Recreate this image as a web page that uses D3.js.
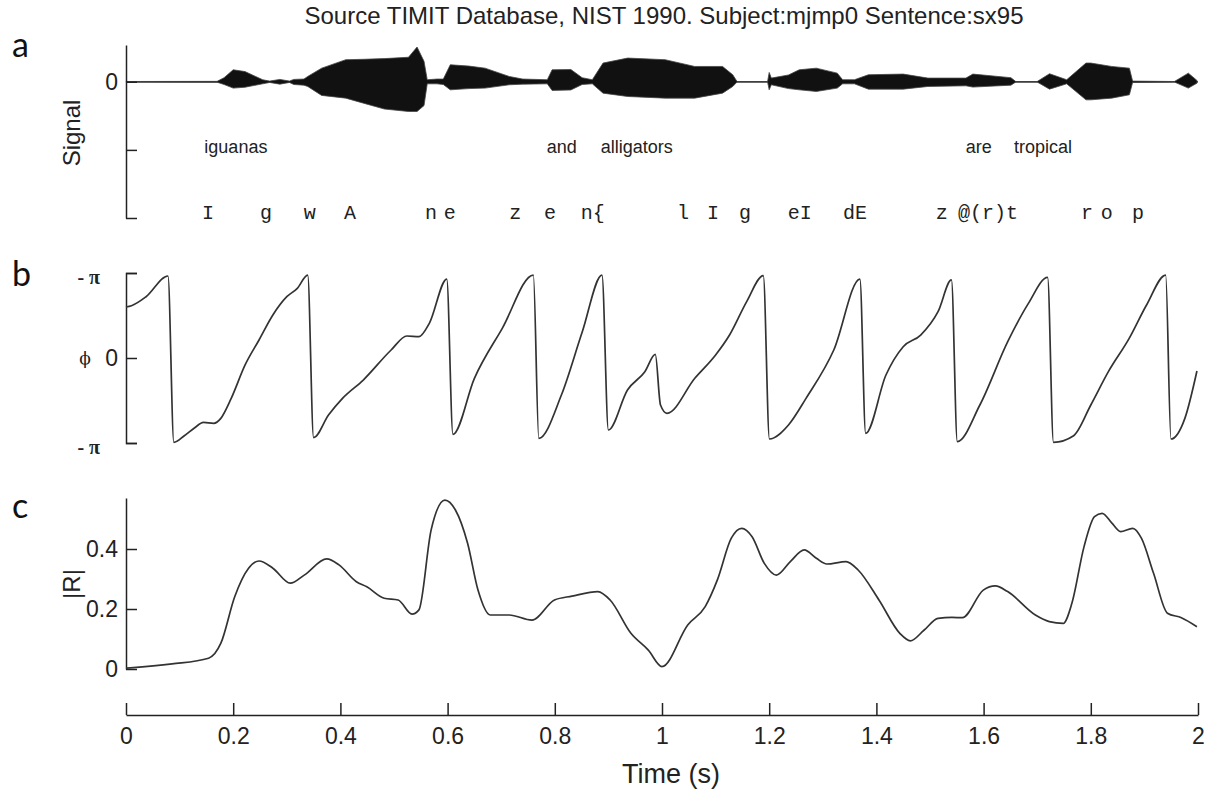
<!DOCTYPE html>
<html>
<head>
<meta charset="utf-8">
<script src="https://cdn.jsdelivr.net/npm/d3@7"></script>
<style>
    body { margin: 0; background: white; }
    svg { display: block; font-family: "Liberation Sans", Arial, sans-serif; }
    .axis path, .axis line { stroke: #222; stroke-width: 1.5; }
    .axis text { fill: #222; }
</style>
</head>
<body>
<svg width="1207" height="793"></svg>
<script>
// waveform envelope (time in s, upper and lower peak, signal units)
const envTime = [0, 0.17, 0.183, 0.2, 0.222, 0.255, 0.268, 0.287, 0.305, 0.313, 0.332, 0.339, 0.365, 0.41, 0.443, 0.482, 0.527, 0.543, 0.556, 0.562,
    0.58, 0.592, 0.605, 0.64, 0.67, 0.715, 0.74, 0.786, 0.795, 0.83, 0.851, 0.87, 0.89, 0.936, 1.006, 1.061, 1.113, 1.132, 1.14, 1.197,
    1.2, 1.204, 1.236, 1.256, 1.288, 1.327, 1.337, 1.359, 1.385, 1.45, 1.496, 1.567, 1.58, 1.651, 1.66, 1.7, 1.723, 1.755, 1.791, 1.8,
    1.839, 1.872, 1.878, 1.956, 1.982, 1.998];
const envUpper = [0.004, 0.006, 0.06, 0.176, 0.15, 0.03, 0.01, 0.035, 0.01, 0.035, 0.04, 0.078, 0.2, 0.324, 0.33, 0.34, 0.36, 0.51, 0.3, 0.03,
    0.04, 0.04, 0.25, 0.23, 0.2, 0.078, 0.04, 0.03, 0.176, 0.18, 0.06, 0.03, 0.275, 0.348, 0.324, 0.225, 0.225, 0.103, 0.004, 0.004,
    0.137, 0.054, 0.1, 0.176, 0.2, 0.127, 0.03, 0.03, 0.103, 0.113, 0.054, 0.054, 0.113, 0.06, 0.004, 0.004, 0.118, 0.03, 0.275, 0.275,
    0.225, 0.2, 0.01, 0.004, 0.127, 0.02];
const envLower = [-0.004, -0.006, -0.04, -0.093, -0.08, -0.03, -0.01, -0.035, -0.01, -0.04, -0.05, -0.069, -0.2, -0.24, -0.314, -0.4, -0.436, -0.436, -0.35, -0.03,
    -0.03, -0.04, -0.118, -0.1, -0.093, -0.044, -0.035, -0.03, -0.127, -0.12, -0.04, -0.03, -0.167, -0.216, -0.24, -0.24, -0.167, -0.069, -0.004, -0.004,
    -0.118, -0.044, -0.1, -0.118, -0.142, -0.093, -0.03, -0.03, -0.108, -0.108, -0.069, -0.059, -0.078, -0.05, -0.004, -0.004, -0.108, -0.03, -0.265, -0.265,
    -0.24, -0.191, -0.01, -0.004, -0.093, -0.02];

const words = ["iguanas", "and", "alligators", "are", "tropical"];
const wordTime = [0.205, 0.813, 0.953, 1.591, 1.711];

const phones = ["I", "g", "w", "A", "n", "e", "z", "e", "n{", "l", "I", "g", "eI", "dE", "z", "@(r)t", "r", "o", "p"];
const phoneTime = [0.153, 0.261, 0.343, 0.418, 0.569, 0.604, 0.726, 0.791, 0.871, 1.039, 1.095, 1.155, 1.257, 1.36, 1.522, 1.608, 1.793, 1.83, 1.888];

// phase (in units of pi)
const phaseTime = [0, 0.0102, 0.0374, 0.0783, 0.0893, 0.1088, 0.1282, 0.1444, 0.1638, 0.1769, 0.1963, 0.2222, 0.2482, 0.274, 0.3, 0.3196, 0.339, 0.35,
    0.3778, 0.4039, 0.4427, 0.4946, 0.524, 0.5465, 0.5659, 0.5984, 0.61, 0.65, 0.702, 0.76, 0.7702, 0.8123, 0.8513, 0.888, 0.9, 0.9356, 0.968, 0.9875,
    0.9972, 1.0093, 1.0612, 1.1, 1.126, 1.158, 1.189, 1.2005, 1.236, 1.2687, 1.3205, 1.3692, 1.38, 1.4178, 1.45, 1.4826, 1.515, 1.54, 1.551,
    1.593, 1.645, 1.6836, 1.7194, 1.7304, 1.768, 1.8, 1.8328, 1.8716, 1.904, 1.9397, 1.9496, 1.9755, 1.998];
const phaseValue = [0.6, 0.615, 0.721, 0.965, -0.992, -0.914, -0.82, -0.757, -0.768, -0.71, -0.475, -0.082, 0.212, 0.506, 0.721, 0.82, 0.976, -0.937,
    -0.671, -0.475, -0.259, 0.094, 0.259, 0.251, 0.408, 0.929, -0.898, -0.239, 0.349, 0.976, -0.945, -0.435, 0.309, 0.976, -0.847, -0.376, -0.161, 0.043,
    -0.553, -0.651, -0.239, 0.035, 0.27, 0.663, 0.969, -0.953, -0.788, -0.475, 0.094, 0.929, -0.886, -0.2, 0.133, 0.27, 0.545, 0.918, -0.984,
    -0.553, 0.192, 0.643, 0.949, -0.992, -0.914, -0.553, -0.161, 0.231, 0.624, 0.976, -0.953, -0.71, -0.153];

// resultant length |R|
const rTime = [0, 0.0082, 0.086, 0.154, 0.177, 0.2028, 0.2287, 0.2481, 0.274, 0.3065, 0.3325, 0.3746, 0.3974, 0.4298, 0.4493, 0.4817, 0.5077, 0.5336,
    0.5465, 0.5692, 0.595, 0.6146, 0.6373, 0.6567, 0.6795, 0.715, 0.7573, 0.7994, 0.832, 0.8804, 0.9032, 0.942, 0.9745, 1.0, 1.048, 1.0806, 1.1033,
    1.1293, 1.1487, 1.1681, 1.1909, 1.2134, 1.2394, 1.2653, 1.288, 1.3075, 1.3433, 1.3659, 1.4048, 1.4437, 1.4632, 1.4892, 1.515, 1.541, 1.5605,
    1.5994, 1.622, 1.6448, 1.6966, 1.7226, 1.7485, 1.7647, 1.7874, 1.8069, 1.8211, 1.8394, 1.8555, 1.8782, 1.8944, 1.9171, 1.943, 1.969, 1.998];
const rValue = [0.003, 0.004, 0.017, 0.036, 0.086, 0.241, 0.336, 0.36, 0.336, 0.286, 0.313, 0.367, 0.347, 0.291, 0.274, 0.236, 0.23, 0.183,
    0.197, 0.463, 0.563, 0.53, 0.419, 0.263, 0.18, 0.18, 0.163, 0.23, 0.243, 0.258, 0.23, 0.119, 0.063, 0.008, 0.147, 0.208, 0.297,
    0.436, 0.469, 0.441, 0.352, 0.313, 0.358, 0.397, 0.369, 0.35, 0.358, 0.33, 0.23, 0.119, 0.094, 0.13, 0.169, 0.172, 0.171,
    0.263, 0.277, 0.258, 0.18, 0.158, 0.152, 0.219, 0.408, 0.508, 0.519, 0.486, 0.458, 0.469, 0.436, 0.319, 0.186, 0.171, 0.141];

const timeTicks = [0, 0.2, 0.4, 0.6, 0.8, 1, 1.2, 1.4, 1.6, 1.8, 2];
const signalTicks = [0, -1, -2];
const rTicks = [0, 0.2, 0.4];

let svg = d3.select("svg");

let x = d3.scaleLinear().domain([0, 2]).range([126, 1198]);
let ySig = d3.scaleLinear().domain([-2, 0.54]).range([218, 45]);
let yPh = d3.scaleLinear().domain([-1, 1]).range([443, 273]);
let yR = d3.scaleLinear().domain([0, 0.57]).range([669, 498]);

// title
svg.append("text")
    .attr("x", 664).attr("y", 24)
    .attr("text-anchor", "middle")
    .style("font-size", "24px").style("fill", "#222")
    .text("Source TIMIT Database, NIST 1990. Subject:mjmp0 Sentence:sx95");

// panel letters
[["a", 57], ["b", 286], ["c", 518]].forEach(function (d) {
    svg.append("text")
        .attr("x", 12).attr("y", d[1])
        .style("font-family", "Lato, 'Open Sans', sans-serif")
        .style("font-size", "34px").style("fill", "#111")
        .text(d[0]);
});

// ---- panel a
let env = envTime.map(function (t, i) {
    return {t: t, hi: envUpper[i], lo: envLower[i]};
});

svg.append("line")
    .attr("x1", x(0)).attr("x2", x(2))
    .attr("y1", ySig(0)).attr("y2", ySig(0))
    .style("stroke", "#111").style("stroke-width", 1.2);

svg.append("path")
    .datum(env)
    .attr("d", d3.area()
        .x(function (d) { return x(d.t); })
        .y0(function (d) { return ySig(d.lo); })
        .y1(function (d) { return ySig(d.hi); })
        .curve(d3.curveLinear))
    .style("fill", "#111")
    .style("stroke", "#444").style("stroke-width", 0.8);

svg.append("g")
    .attr("class", "axis")
    .attr("transform", "translate(" + x(0) + ",0)")
    .call(d3.axisLeft(ySig).tickValues(signalTicks).tickSizeInner(-11).tickSizeOuter(0).tickPadding(8)
        .tickFormat(function (d) { return d === 0 ? "0" : ""; }))
    .call(function (g) { g.selectAll("text").style("font-size", "23px"); });

svg.append("text")
    .attr("transform", "translate(80,133) rotate(-90)")
    .attr("text-anchor", "middle")
    .style("font-size", "24px").style("fill", "#222")
    .text("Signal");

svg.selectAll(".word")
    .data(words)
    .enter().append("text")
    .attr("class", "word")
    .attr("x", function (d, i) { return x(wordTime[i]); })
    .attr("y", 153)
    .attr("text-anchor", "middle")
    .style("font-size", "18px").style("fill", "#222")
    .text(function (d) { return d; });

svg.selectAll(".phone")
    .data(phones)
    .enter().append("text")
    .attr("class", "phone")
    .attr("x", function (d, i) { return x(phoneTime[i]); })
    .attr("y", 219)
    .attr("text-anchor", "middle")
    .style("font-family", "'Liberation Mono', 'DejaVu Sans Mono', monospace")
    .style("font-size", "20px").style("fill", "#222")
    .text(function (d) { return d; });

// ---- panel b
let phase = phaseTime.map(function (t, i) { return {t: t, v: phaseValue[i]}; });

svg.append("g")
    .attr("class", "axis")
    .attr("transform", "translate(" + x(0) + ",0)")
    .call(d3.axisLeft(yPh).tickValues([-1, 0, 1]).tickSizeInner(-11).tickSizeOuter(-11).tickFormat(""));

[[284, "- \u03c0"], [454, "- \u03c0"]].forEach(function (d) {
    svg.append("text").attr("x", 100).attr("y", d[0]).attr("text-anchor", "end")
        .style("font-family", "'Liberation Serif', serif").style("font-weight", "bold")
        .style("font-size", "20px").style("fill", "#222").text(d[1]);
});
svg.append("text").attr("x", 85).attr("y", 364).attr("text-anchor", "middle")
    .style("font-family", "'DejaVu Serif', serif").style("font-size", "17px").style("fill", "#222").text("\u03d5");
svg.append("text").attr("x", 118).attr("y", 366).attr("text-anchor", "end")
    .style("font-size", "23px").style("fill", "#222").text("0");

svg.append("path")
    .datum(phase)
    .attr("d", d3.line()
        .x(function (d) { return x(d.t); })
        .y(function (d) { return yPh(d.v); })
        .curve(d3.curveMonotoneX))
    .style("fill", "none").style("stroke", "#333").style("stroke-width", 1.7);

// ---- panel c
let res = rTime.map(function (t, i) { return {t: t, v: rValue[i]}; });

svg.append("g")
    .attr("class", "axis")
    .attr("transform", "translate(" + x(0) + ",0)")
    .call(d3.axisLeft(yR).tickValues(rTicks).tickSizeInner(-11).tickSizeOuter(0).tickPadding(8)
        .tickFormat(d3.format("~g")))
    .call(function (g) { g.selectAll("text").style("font-size", "23px"); });

svg.append("text")
    .attr("transform", "translate(80,584) rotate(-90)")
    .attr("text-anchor", "middle")
    .style("font-size", "24px").style("fill", "#222")
    .text("|R|");

svg.append("path")
    .datum(res)
    .attr("d", d3.line()
        .x(function (d) { return x(d.t); })
        .y(function (d) { return yR(d.v); })
        .curve(d3.curveMonotoneX))
    .style("fill", "none").style("stroke", "#333").style("stroke-width", 1.7);

// ---- time axis
svg.append("g")
    .attr("class", "axis")
    .attr("transform", "translate(0,715)")
    .call(d3.axisBottom(x).tickValues(timeTicks).tickSizeInner(-12).tickSizeOuter(0).tickPadding(13)
        .tickFormat(d3.format("~g")))
    .call(function (g) { g.selectAll("text").style("font-size", "23px"); });

svg.append("text")
    .attr("x", 671).attr("y", 783)
    .attr("text-anchor", "middle")
    .style("font-size", "27px").style("fill", "#222")
    .text("Time (s)");
</script>
</body>
</html>
